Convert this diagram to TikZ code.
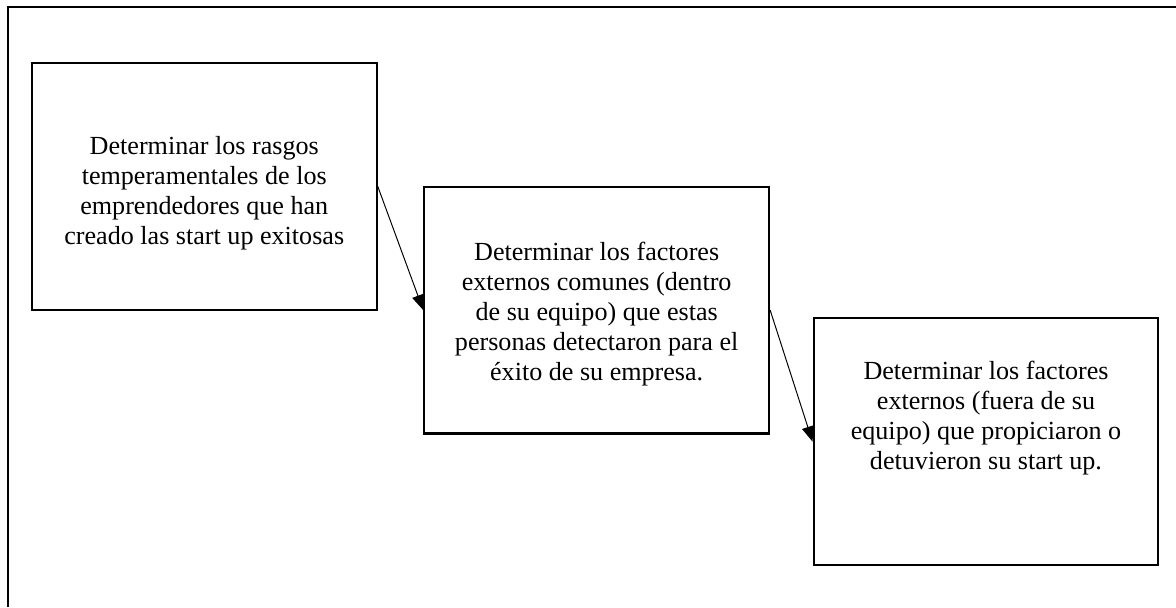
\documentclass[tikz,border=0pt]{standalone}
\usepackage{fontspec}
\setmainfont{Liberation Serif}
\usetikzlibrary{arrows.meta}

\tikzset{
  goalbox/.style={draw, line width=1pt, minimum width=5.57cm, minimum height=3.99cm,
    align=center, inner sep=0pt, font=\fontsize{12}{13.8}\selectfont},
  goalarrow/.style={line width=0.45pt, -{Triangle[length=7pt,width=5.5pt]}}
}

\begin{document}
\begin{tikzpicture}
\useasboundingbox (0,0) rectangle (19.0,9.81);

% Outer frame (cut by the page on the right and at the bottom)
\draw[line width=1pt] (0.13,0) -- (0.13,9.70) -- (19.0,9.70);

% The three goals, stepping down
\node[goalbox] (rasgos) at (3.30,6.80) {\rule{0pt}{15pt}Determinar los rasgos\\temperamentales de los\\emprendedores que han\\creado las start up exitosas};
\node[goalbox] (internos) at (9.64,4.80) {\rule{0pt}{12pt}Determinar los factores\\externos comunes (dentro\\de su equipo) que estas\\personas detectaron para el\\éxito de su empresa.};
\node[goalbox] (externos) at (15.93,2.675) {Determinar los factores\\externos (fuera de su\\equipo) que propiciaron o\\detuvieron su start up.\rule[-24pt]{0pt}{24pt}};

% Arrows between the goals
\draw[goalarrow] (rasgos.east) -- (internos.west);
\draw[goalarrow] (internos.east) -- (externos.west);
\end{tikzpicture}
\end{document}
